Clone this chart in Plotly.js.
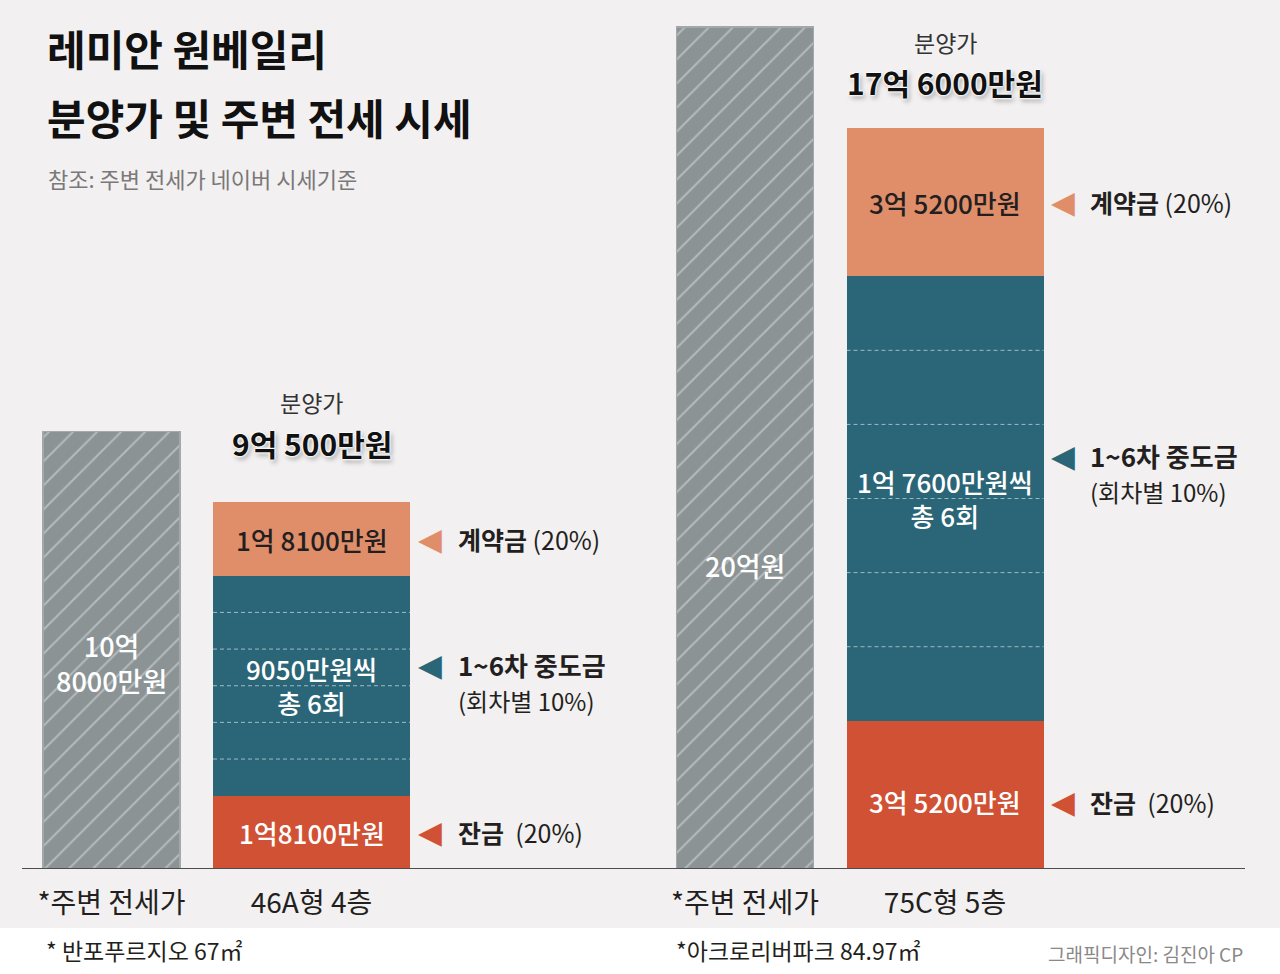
<!DOCTYPE html>
<html>
<head>
<meta charset="utf-8">
<script src="https://cdn.plot.ly/plotly-3.0.1.min.js"></script>
<style>
  html, body { margin: 0; padding: 0; background: #f2f0f0; }
  #chart { width: 1280px; height: 974px; }
</style>
</head>
<body>
<div id="chart"></div>
<script>
// ---------- data (만원) ----------
const leftCategories = ['*주변 전세가', '46A형 4층'];
const rightCategories = ['*주변 전세가', '75C형 5층'];

const leftJeonse = [108000];
const leftDeposit = [18100];
const leftMiddle = [9050, 9050, 9050, 9050, 9050, 9050];
const leftBalance = [18100];

const rightJeonse = [200000];
const rightDeposit = [35200];
const rightMiddle = [17600, 17600, 17600, 17600, 17600, 17600];
const rightBalance = [35200];

const leftLabels = {
  jeonse: '10억<br>8000만원', total: '9억 500만원', deposit: '1억 8100만원',
  middle: '9050만원씩<br>총 6회', balance: '1억8100만원'
};
const rightLabels = {
  jeonse: '20억원', total: '17억 6000만원', deposit: '3억 5200만원',
  middle: '1억 7600만원씩<br>총 6회', balance: '3억 5200만원'
};
const priceHeading = '분양가';
const depositName = '계약금';
const middleName = '1~6차 중도금';
const middleNote = '(회차별 10%)';
const balanceName = '잔금';
const pctLabel = '(20%)';
const footLeft = '* 반포푸르지오 67㎡';
const footRight = '*아크로리버파크 84.97㎡';
const credit = '그래픽디자인: 김진아 CP';
const titleLines = ['레미안 원베일리', '분양가 및 주변 전세 시세'];
const subtitle = '참조: 주변 전세가 네이버 시세기준';

// ---------- style ----------
const FONT = '"Noto Sans CJK KR", "Noto Sans", sans-serif';
const C = {
  bg: '#f2f0f0', gray: '#8b9395', hatch: '#b5babc', grayEdge: '#a3a9ab',
  deposit: '#e08e6a', middle: '#2b6678', balance: '#d15134', ink: '#231f20', sub: '#7a7878'
};
const W = 1280, H = 974, BASE_PX = 869;
const px = x => x / W;
const py = y => 1 - y / H;
const jeonseWidth = 0.685, priceWidth = 0.985;
const sum = a => a.reduce((s, v) => s + v, 0);

const traces = [];
const shapes = [];
const annotations = [];

function group(xa, ya, cats, jeonse, deposit, middle, balance, labels, opt) {
  const xref = xa, yref = ya;
  traces.push({
    type: 'bar', x: [cats[0]], y: jeonse, xaxis: xa, yaxis: ya, width: jeonseWidth,
    marker: {
      color: C.gray, line: {color: C.grayEdge, width: 1.5},
      pattern: {shape: '/', bgcolor: C.gray, fgcolor: C.hatch, fgopacity: 1, size: 17, solidity: 0.12}
    },
    hoverinfo: 'skip', showlegend: false
  });
  traces.push({type: 'bar', x: [cats[1]], y: balance, xaxis: xa, yaxis: ya, width: priceWidth,
    marker: {color: C.balance, line: {width: 0}}, hoverinfo: 'skip', showlegend: false});
  middle.forEach(v => traces.push({type: 'bar', x: [cats[1]], y: [v], xaxis: xa, yaxis: ya, width: priceWidth,
    marker: {color: C.middle, line: {width: 0}}, hoverinfo: 'skip', showlegend: false}));
  traces.push({type: 'bar', x: [cats[1]], y: deposit, xaxis: xa, yaxis: ya, width: priceWidth,
    marker: {color: C.deposit, line: {width: 0}}, hoverinfo: 'skip', showlegend: false});

  let acc = balance[0];
  for (let k = 0; k < middle.length - 1; k++) {
    acc += middle[k];
    shapes.push({type: 'line', xref: xref, yref: yref, x0: 1 - priceWidth / 2, x1: 1 + priceWidth / 2,
      y0: acc, y1: acc, line: {color: 'rgba(255,255,255,0.55)', width: 1, dash: '4px,3px'}});
  }

  const midTotal = sum(middle);
  const total = balance[0] + midTotal + deposit[0];
  const balMid = balance[0] / 2;
  const midMid = balance[0] + midTotal / 2;
  const depMid = balance[0] + midTotal + deposit[0] / 2;

  const inBar = (text, y, color, ys) => annotations.push({xref, yref, x: 1, y, text, showarrow: false,
    yanchor: 'middle', yshift: ys || 0, font: {family: FONT, size: 26, color, weight: 500}});
  inBar(labels.deposit, depMid, C.ink, opt.depShift);
  inBar(labels.middle, midMid, '#ffffff', opt.midShift);
  inBar(labels.balance, balMid, '#ffffff', opt.balShift);

  annotations.push({xref, yref, x: 0, y: jeonse[0] * opt.jeonseFrac, text: labels.jeonse, showarrow: false,
    yanchor: 'middle', font: {family: FONT, size: 27, color: '#ffffff', weight: 500}});

  annotations.push({xref, yref, x: 1, y: total, text: priceHeading, showarrow: false, yanchor: 'middle',
    yshift: opt.headShift, font: {family: FONT, size: 23, color: '#333'}});
  annotations.push({xref, yref, x: 1, y: total, text: '<b>' + labels.total + '</b>', showarrow: false, yanchor: 'middle',
    yshift: opt.totalShift,
    font: {family: FONT, size: 30, color: '#111',
      shadow: '0 0 2px #fff, 0 0 2px #fff, 0 0 3px #fff, 0 0 3px #fff, 2px 3px 5px rgba(0,0,0,0.35)'}});

  const tri = (y, color, ys) => annotations.push({xref: 'paper', yref, x: px(opt.triX), y, text: '◀', showarrow: false,
    xanchor: 'center', yanchor: 'middle', yshift: ys || 0, font: {family: 'DejaVu Sans', size: 31, color}});
  const side = (text, y, size, ys) => annotations.push({xref: 'paper', yref, x: px(opt.labX), y, text, showarrow: false,
    xanchor: 'left', yanchor: 'middle', yshift: ys || 0, font: {family: FONT, size, color: C.ink}});
  tri(depMid, C.deposit, opt.depSide);
  side('<b>' + depositName + '</b> ' + pctLabel, depMid, 25, opt.depSide);
  tri(midMid, C.middle, opt.midSide1);
  side('<b>' + middleName + '</b>', midMid, 26, opt.midSide1);
  side(middleNote, midMid, 24, opt.midSide2);
  tri(balMid, C.balance, opt.balSide);
  side('<b>' + balanceName + '</b>  ' + pctLabel, balMid, 25, opt.balSide);
}

group('x', 'y', leftCategories, leftJeonse, leftDeposit, leftMiddle, leftBalance, leftLabels,
  {jeonseFrac: 0.47, headShift: 100, totalShift: 59, triX: 430, labX: 456,
   depShift: 0, midShift: 0, balShift: 0, depSide: 0, midSide1: 21, midSide2: -15, balSide: 0});
group('x2', 'y2', rightCategories, rightJeonse, rightDeposit, rightMiddle, rightBalance, rightLabels,
  {jeonseFrac: 0.36, headShift: 86, totalShift: 46, triX: 1063, labX: 1088,
   depShift: 0, midShift: 0, balShift: -7, depSide: 0, midSide1: 43, midSide2: 7, balSide: -7});

shapes.push({type: 'rect', xref: 'paper', yref: 'paper', x0: 0, x1: 1, y0: 0, y1: py(928),
  fillcolor: '#ffffff', line: {width: 0}, layer: 'below'});
shapes.push({type: 'line', xref: 'paper', yref: 'y', x0: px(22), x1: px(1245), y0: 0, y1: 0,
  line: {color: '#4d4d4d', width: 2}});

titleLines.forEach((t, i) => annotations.push({xref: 'paper', yref: 'paper', x: px(45), y: py(i === 0 ? 48 : 117),
  text: '<b>' + t + '</b>', showarrow: false, xanchor: 'left', yanchor: 'middle',
  font: {family: FONT, size: 42, color: '#111'}}));
annotations.push({xref: 'paper', yref: 'paper', x: px(46), y: py(178), text: subtitle, showarrow: false,
  xanchor: 'left', yanchor: 'middle', font: {family: FONT, size: 22, color: C.sub}});
annotations.push({xref: 'paper', yref: 'paper', x: px(44), y: py(950), text: footLeft, showarrow: false,
  xanchor: 'left', yanchor: 'middle', font: {family: FONT, size: 23, color: C.ink}});
annotations.push({xref: 'paper', yref: 'paper', x: px(674), y: py(950), text: footRight, showarrow: false,
  xanchor: 'left', yanchor: 'middle', font: {family: FONT, size: 23, color: C.ink}});
annotations.push({xref: 'paper', yref: 'paper', x: px(1245), y: py(953), text: credit, showarrow: false,
  xanchor: 'right', yanchor: 'middle', font: {family: FONT, size: 19, color: '#8a8888'}});

const leftPx = 40.5, rightPx = 42.1;
const yDomainBottom = py(BASE_PX);
const xCommon = {type: 'category', showgrid: false, zeroline: false, showline: false, ticks: '',
  tickfont: {family: FONT, size: 28, color: C.ink}, ticklabelstandoff: 15, fixedrange: true};
const yCommon = {visible: false, showgrid: false, zeroline: false, fixedrange: true, domain: [yDomainBottom, 1]};

const layout = {
  width: W, height: H, margin: {l: 0, r: 0, t: 0, b: 0},
  paper_bgcolor: C.bg, plot_bgcolor: 'rgba(0,0,0,0)',
  barmode: 'stack', bargap: 0, showlegend: false,
  xaxis: Object.assign({}, xCommon, {domain: [0, 0.5], anchor: 'y', categoryarray: leftCategories,
    range: [-111.5 / 200, -111.5 / 200 + 640 / 200]}),
  xaxis2: Object.assign({}, xCommon, {domain: [0.5, 1], anchor: 'y2', categoryarray: rightCategories,
    range: [-105 / 200, -105 / 200 + 640 / 200]}),
  yaxis: Object.assign({}, yCommon, {anchor: 'x', range: [0, BASE_PX / leftPx * 10000]}),
  yaxis2: Object.assign({}, yCommon, {anchor: 'x2', range: [0, BASE_PX / rightPx * 10000]}),
  shapes, annotations,
  font: {family: FONT}
};

Plotly.newPlot('chart', traces, layout, {staticPlot: true, displayModeBar: false});
</script>
</body>
</html>
